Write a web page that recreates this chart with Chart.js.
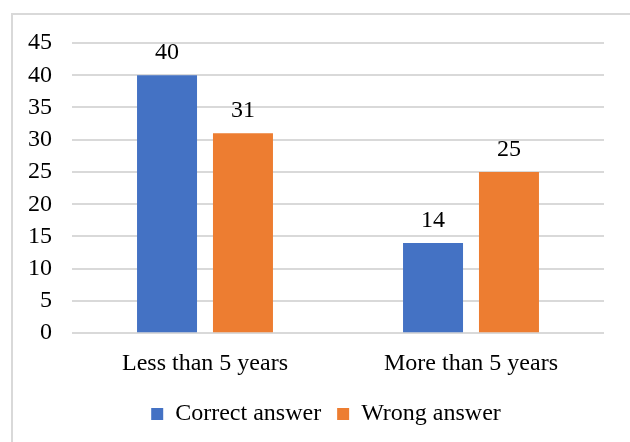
<!DOCTYPE html>
<html>
<head>
<meta charset="utf-8">
<script src="https://cdn.jsdelivr.net/npm/chart.js@4.4.1/dist/chart.umd.min.js"></script>
<style>
  html, body { margin: 0; padding: 0; background: #ffffff; }
  #wrap { position: relative; width: 630px; height: 442px; }
</style>
</head>
<body>
<div id="wrap"><canvas id="chart" width="630" height="442"></canvas></div>
<script>
// Experience groups and answer counts
const categories = ['Less than 5 years', 'More than 5 years'];
const correctAnswer = [40, 14];
const wrongAnswer = [31, 25];
const seriesNames = ['Correct answer', 'Wrong answer'];
const yTicks = [0, 5, 10, 15, 20, 25, 30, 35, 40, 45];

const FONT = '"Liberation Serif", "Times New Roman", serif';
const FONT_SIZE = 24;
const GRID = '#d9d9d9';

// Frame around the chart (top and left edges)
const framePlugin = {
  id: 'frame',
  beforeDraw(chart) {
    const ctx = chart.ctx;
    ctx.save();
    ctx.strokeStyle = GRID;
    ctx.lineWidth = 2;
    ctx.beginPath();
    ctx.moveTo(12, chart.height);
    ctx.lineTo(12, 14);
    ctx.lineTo(chart.width, 14);
    ctx.stroke();
    ctx.restore();
  }
};

// Value labels above each bar
const valueLabels = {
  id: 'valueLabels',
  afterDatasetsDraw(chart) {
    const ctx = chart.ctx;
    ctx.save();
    ctx.font = FONT_SIZE + 'px ' + FONT;
    ctx.fillStyle = '#000000';
    ctx.textAlign = 'center';
    ctx.textBaseline = 'alphabetic';
    chart.data.datasets.forEach((ds, i) => {
      chart.getDatasetMeta(i).data.forEach((bar, j) => {
        ctx.fillText(String(ds.data[j]), bar.x, bar.y - 16);
      });
    });
    ctx.restore();
  }
};

new Chart(document.getElementById('chart'), {
  type: 'bar',
  data: {
    labels: categories,
    datasets: [
      { label: seriesNames[0], data: correctAnswer, backgroundColor: '#4472C4' },
      { label: seriesNames[1], data: wrongAnswer, backgroundColor: '#ED7D31' }
    ]
  },
  options: {
    responsive: false,
    animation: false,
    layout: { padding: { top: 43, right: 0, bottom: 6, left: 22 } },
    datasets: { bar: { categoryPercentage: 0.571, barPercentage: 0.79 } },
    plugins: {
      legend: {
        position: 'bottom',
        labels: {
          color: '#000000',
          font: { family: FONT, size: FONT_SIZE },
          boxWidth: 12,
          boxHeight: 12,
          padding: 16
        }
      },
      tooltip: { enabled: false }
    },
    scales: {
      x: {
        grid: { display: false },
        border: { display: false },
        ticks: { color: '#000000', font: { family: FONT, size: FONT_SIZE }, padding: 8 }
      },
      y: {
        min: 0,
        max: 45,
        afterFit(scale) { scale.width = 50; },
        afterBuildTicks(scale) { scale.ticks = yTicks.map(v => ({ value: v })); },
        grid: { color: GRID, lineWidth: 2, drawTicks: false },
        border: { display: false },
        ticks: { color: '#000000', font: { family: FONT, size: FONT_SIZE }, padding: 20, autoSkip: false }
      },
      // empty right-hand margin beside the plot
      yRight: {
        type: 'linear',
        position: 'right',
        min: 0,
        max: 45,
        afterFit(scale) { scale.width = 26; },
        grid: { display: false },
        border: { display: false },
        ticks: { display: false }
      }
    }
  },
  plugins: [framePlugin, valueLabels]
});
</script>
</body>
</html>
